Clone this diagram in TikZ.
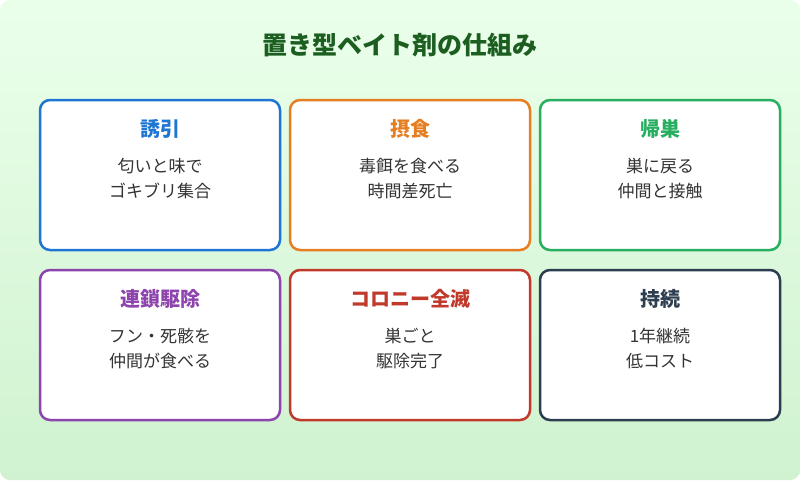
\documentclass[tikz,border=0pt]{standalone}
\usepackage{fontspec}
\setmainfont{Noto Sans CJK JP}
\usetikzlibrary{positioning}
\definecolor{cblue}{HTML}{1E76D2}
\definecolor{corange}{HTML}{E67E22}
\definecolor{cgreen}{HTML}{27AE60}
\definecolor{cpurple}{HTML}{8E44AD}
\definecolor{cred}{HTML}{C0392B}
\definecolor{cdark}{HTML}{2C3E50}
\definecolor{ctitle}{HTML}{1B5E20}
\definecolor{ctext}{HTML}{333333}
\tikzset{
  card/.style={draw=#1, line width=2.5pt, rounded corners=10pt, fill=white,
    minimum width=240pt, minimum height=150pt},
  head/.style={font=\fontsize{20}{24}\selectfont\bfseries, text=#1},
  body/.style={font=\fontsize{17}{25}\selectfont, text=ctext, align=center}
}
\newcommand{\card}[6]{%
  \node[card=#4] (#1) at (#2,#3) {};
  \node[head=#4] (#1h) at ([yshift=-30pt]#1.north) {#5};
  \node[body] (#1b) at ([yshift=-79.5pt]#1.north) {#6};
}
\begin{document}
\begin{tikzpicture}[x=1pt,y=-1pt]
  \shade[top color=green!8!white, bottom color=green!15!white!90!gray, rounded corners=10pt]
    (0,0) rectangle (800,480);
  \useasboundingbox (0,0) rectangle (800,480);
  \node[font=\fontsize{25}{30}\selectfont\bfseries, text=ctitle] (title) at (400,45) {置き型ベイト剤の仕組み};

  \card{lure}{160}{175}{cblue}{誘引}{匂いと味で\\ゴキブリ集合}
  \card{eat}{410}{175}{corange}{摂食}{毒餌を食べる\\時間差死亡}
  \card{home}{660}{175}{cgreen}{帰巣}{巣に戻る\\仲間と接触}
  \card{chain}{160}{345}{cpurple}{連鎖駆除}{フン・死骸を\\仲間が食べる}
  \card{colony}{410}{345}{cred}{コロニー全滅}{巣ごと\\駆除完了}
  \card{last}{660}{345}{cdark}{持続}{1年継続\\低コスト}
\end{tikzpicture}
\end{document}
